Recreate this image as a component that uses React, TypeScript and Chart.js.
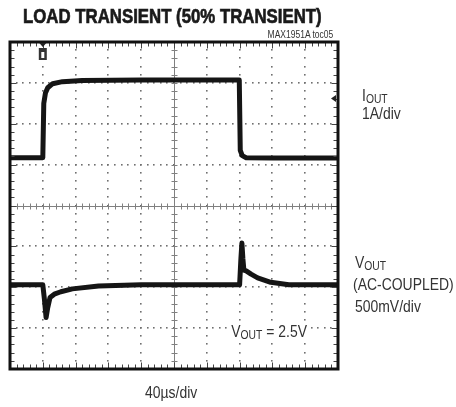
import React, { useEffect, useRef } from "react";
import { Chart, registerables } from "chart.js";

Chart.register(...registerables);

// ---- data (x in divisions 0..10, y in divisions -4..4) ----
const ioutX = [0, 1.0, 1.03, 1.08, 1.15, 1.3, 1.6, 2.2, 4.0, 6.99, 7.02, 7.08, 7.2, 8.0, 10];
const ioutY = [1.17, 1.17, 2.5, 2.75, 2.88, 2.98, 3.03, 3.06, 3.07, 3.07, 1.35, 1.22, 1.17, 1.16, 1.16];

const voutX = [0, 1.0, 1.05, 1.1, 1.15, 1.22, 1.35, 1.55, 1.9, 2.7, 4.0, 7.0, 7.04, 7.07, 7.1, 7.13, 7.2, 7.35, 7.55, 7.95, 8.5, 10];
const voutY = [-1.94, -1.94, -2.3, -2.74, -2.5, -2.25, -2.17, -2.11, -2.04, -1.97, -1.94, -1.94, -1.3, -0.92, -1.3, -1.58, -1.6, -1.68, -1.77, -1.88, -1.94, -1.94];

const xDivs = 10;
const yDivs = 8;
const triggerX = 1.0;
const ioutMarkerY = 2.62;

const FONT = '"Liberation Sans", Arial, sans-serif';

const scopePlugin = {
  id: "scope",
  beforeDatasetsDraw(chart: any) {
    const { ctx, chartArea, scales } = chart;
    const xs = scales.x;
    const ys = scales.y;
    const { left, right, top, bottom } = chartArea;
    ctx.save();
    // dotted grid
    ctx.fillStyle = "#707070";
    for (let i = 1; i < xDivs; i++) {
      if (i === xDivs / 2) continue;
      const px = xs.getPixelForValue(i);
      for (let k = -yDivs / 2 * 5; k <= yDivs / 2 * 5; k++) {
        const py = ys.getPixelForValue(k / 5);
        ctx.fillRect(Math.round(px) - 1, Math.round(py) - 1, 1.6, 1.6);
      }
    }
    for (let j = -yDivs / 2 + 1; j < yDivs / 2; j++) {
      if (j === 0) continue;
      const py = ys.getPixelForValue(j);
      for (let k = 0; k <= xDivs * 5; k++) {
        const px = xs.getPixelForValue(k / 5);
        ctx.fillRect(Math.round(px) - 1, Math.round(py) - 1, 1.6, 1.6);
      }
    }
    // center axes with minor ticks
    ctx.strokeStyle = "#808080";
    ctx.lineWidth = 1;
    const cx = Math.round(xs.getPixelForValue(xDivs / 2)) + 0.5;
    const cy = Math.round(ys.getPixelForValue(0)) + 0.5;
    ctx.beginPath();
    ctx.moveTo(cx, top);
    ctx.lineTo(cx, bottom);
    ctx.moveTo(left, cy);
    ctx.lineTo(right, cy);
    for (let k = -yDivs / 2 * 5; k <= yDivs / 2 * 5; k++) {
      const py = Math.round(ys.getPixelForValue(k / 5)) + 0.5;
      ctx.moveTo(cx - 3, py);
      ctx.lineTo(cx + 3, py);
    }
    for (let k = 0; k <= xDivs * 5; k++) {
      const px = Math.round(xs.getPixelForValue(k / 5)) + 0.5;
      ctx.moveTo(px, cy - 3);
      ctx.lineTo(px, cy + 3);
    }
    ctx.stroke();
    ctx.restore();
  },
  afterDatasetsDraw(chart: any) {
    const { ctx, chartArea, scales } = chart;
    const xs = scales.x;
    const ys = scales.y;
    const { left, right, top, bottom } = chartArea;
    ctx.save();
    // border ticks
    ctx.strokeStyle = "#444";
    ctx.lineWidth = 1;
    ctx.beginPath();
    for (let k = 0; k <= xDivs * 5; k++) {
      const px = Math.round(xs.getPixelForValue(k / 5)) + 0.5;
      const len = k % 5 === 0 ? 5 : 3;
      ctx.moveTo(px, top);
      ctx.lineTo(px, top + 1.5 + len);
      ctx.moveTo(px, bottom);
      ctx.lineTo(px, bottom - 1.5 - len);
    }
    for (let k = 0; k <= yDivs * 5; k++) {
      const py = Math.round(ys.getPixelForValue(-yDivs / 2 + k / 5)) + 0.5;
      const len = k % 5 === 0 ? 5 : 3;
      ctx.moveTo(left, py);
      ctx.lineTo(left + 1.5 + len, py);
      ctx.moveTo(right, py);
      ctx.lineTo(right - 1.5 - len, py);
    }
    ctx.stroke();
    // frame
    ctx.strokeStyle = "#111";
    ctx.lineWidth = 3;
    ctx.strokeRect(left, top, right - left, bottom - top);
    // trigger marker
    const tx = xs.getPixelForValue(triggerX);
    ctx.fillStyle = "#222";
    ctx.beginPath();
    ctx.moveTo(tx - 3.5, top + 1);
    ctx.lineTo(tx + 3.5, top + 1);
    ctx.lineTo(tx, top + 5);
    ctx.closePath();
    ctx.fill();
    ctx.fillStyle = "#333";
    ctx.fillRect(tx - 4, top + 6, 8, 12);
    ctx.fillStyle = "#fff";
    ctx.fillRect(tx - 1.5, top + 10, 3, 6);
    // I_OUT level marker on right edge
    const my = ys.getPixelForValue(ioutMarkerY);
    ctx.fillStyle = "#222";
    ctx.beginPath();
    ctx.moveTo(right - 7, my);
    ctx.lineTo(right - 2, my - 3.5);
    ctx.lineTo(right - 2, my + 3.5);
    ctx.closePath();
    ctx.fill();
    ctx.restore();
  },
};

type LabelProps = {
  x: number;
  baseline: number;
  size: number;
  scale?: number;
  bold?: boolean;
  align?: "left" | "right";
  bg?: boolean;
  children: React.ReactNode;
};

function Label({ x, baseline, size, scale = 1, bold = false, align = "left", bg = false, children }: LabelProps) {
  const style: React.CSSProperties = {
    position: "absolute",
    top: baseline - 0.8465 * size,
    fontFamily: FONT,
    fontSize: size,
    fontWeight: bold ? 700 : 400,
    lineHeight: 1,
    whiteSpace: "nowrap",
    color: bold ? "#1a1a1a" : "#333",
    transform: `scaleX(${scale})`,
    transformOrigin: align === "left" ? "left top" : "right top",
  };
  if (bold) (style as any).WebkitTextStroke = "0.7px #1a1a1a";
  if (bg) {
    style.background = "#fff";
    style.padding = "0 4px";
    style.marginLeft = -4;
  }
  if (align === "left") style.left = x;
  else style.right = 456 - x;
  return <div style={style}>{children}</div>;
}

const Sub = ({ children }: { children: React.ReactNode }) => (
  <span style={{ fontSize: "0.74em", verticalAlign: "-0.12em" }}>{children}</span>
);

export default function App() {
  const ref = useRef<HTMLCanvasElement | null>(null);
  useEffect(() => {
    if (!ref.current) return;
    const chart = new Chart(ref.current, {
      type: "line",
      data: {
        datasets: [
          {
            label: "IOUT",
            data: ioutX.map((x, i) => ({ x, y: ioutY[i] })),
            borderColor: "#151515",
            borderWidth: 5,
            pointRadius: 0,
            tension: 0,
            borderJoinStyle: "round",
          },
          {
            label: "VOUT",
            data: voutX.map((x, i) => ({ x, y: voutY[i] })),
            borderColor: "#151515",
            borderWidth: 5,
            pointRadius: 0,
            tension: 0,
            borderJoinStyle: "round",
          },
        ],
      },
      options: {
        responsive: false,
        maintainAspectRatio: false,
        devicePixelRatio: 1,
        animation: false,
        layout: { padding: { left: 10, top: 42, right: 118, bottom: 38 } },
        plugins: { legend: { display: false }, tooltip: { enabled: false }, title: { display: false } },
        scales: {
          x: { type: "linear", min: 0, max: xDivs, display: false },
          y: { type: "linear", min: -yDivs / 2, max: yDivs / 2, display: false },
        },
      },
      plugins: [scopePlugin],
    } as any);
    return () => chart.destroy();
  }, []);

  return (
    <div style={{ position: "fixed", left: 0, top: 0, width: 456, height: 407, background: "#fff", overflow: "hidden" }}>
      <canvas ref={ref} width={456} height={407} style={{ position: "absolute", left: 0, top: 0, display: "block" }} />
      <Label x={23} baseline={22.5} size={21} scale={0.8} bold>
        LOAD TRANSIENT (50% TRANSIENT)
      </Label>
      <Label x={333} baseline={38} size={10} scale={0.85} align="right">
        MAX1951A toc05
      </Label>
      <Label x={362} baseline={101} size={17} scale={0.82}>
        I<Sub>OUT</Sub>
      </Label>
      <Label x={362} baseline={119} size={17} scale={0.82}>
        1A/div
      </Label>
      <Label x={355} baseline={268} size={17} scale={0.82}>
        V<Sub>OUT</Sub>
      </Label>
      <Label x={353} baseline={290} size={17} scale={0.82}>
        (AC-COUPLED)
      </Label>
      <Label x={355} baseline={312} size={17} scale={0.82}>
        500mV/div
      </Label>
      <Label x={232} baseline={337} size={17} scale={0.82} bg>
        V<Sub>OUT</Sub> = 2.5V
      </Label>
      <Label x={145} baseline={398} size={17} scale={0.82}>
        40µs/div
      </Label>
    </div>
  );
}
